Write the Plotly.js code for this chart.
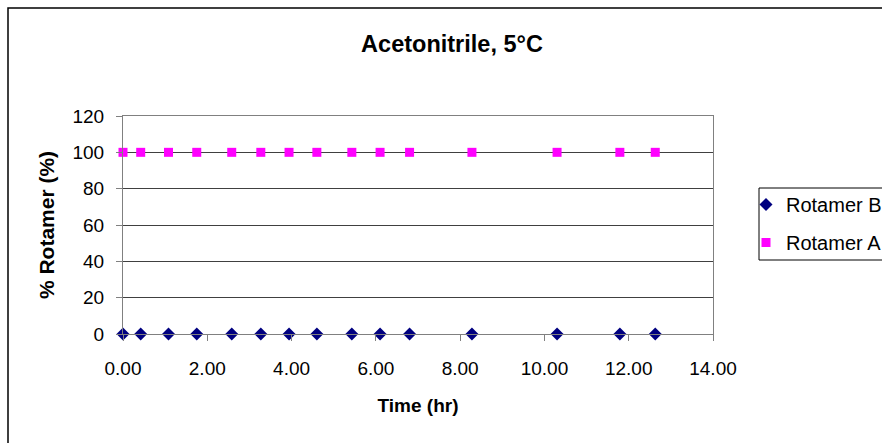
<!DOCTYPE html>
<html>
<head>
<meta charset="utf-8">
<script src="https://cdn.plot.ly/plotly-3.0.1.min.js"></script>
<style>html,body{margin:0;padding:0;background:#fff}#chart{width:882px;height:443px}</style>
</head>
<body>
<div id="chart"></div>
<script>
// Data
const timeHr = [0.00, 0.42, 1.08, 1.75, 2.58, 3.27, 3.94, 4.60, 5.43, 6.10, 6.80, 8.28, 10.30, 11.79, 12.63];
const rotamerB = [0, 0, 0, 0, 0, 0, 0, 0, 0, 0, 0, 0, 0, 0, 0];
const rotamerA = [100, 100, 100, 100, 100, 100, 100, 100, 100, 100, 100, 100, 100, 100, 100];
const xTickVals = [0, 2, 4, 6, 8, 10, 12, 14];
const yTickVals = [0, 20, 40, 60, 80, 100, 120];

const FONT = 'Arial, "Liberation Sans", sans-serif';

const traces = [
  {
    x: timeHr, y: rotamerB, name: 'Rotamer B', type: 'scatter', mode: 'markers',
    legendgroup: 'b', cliponaxis: false,
    marker: {symbol: 'diamond', size: 10, color: '#000080'}
  },
  {
    x: timeHr, y: rotamerA, name: 'Rotamer A', type: 'scatter', mode: 'markers',
    legendgroup: 'a', cliponaxis: false,
    marker: {symbol: 'square', size: 9, color: '#FF00FF'}
  }
];

const PW = 590, PH = 218;
const layout = {
  width: 882, height: 443,
  margin: {l: 123, r: 169, t: 116, b: 109, autoexpand: false},
  paper_bgcolor: '#ffffff', plot_bgcolor: '#ffffff',
  font: {family: FONT, size: 19, color: '#000'},
  title: {
    text: '<b>Acetonitrile, 5°C</b>',
    font: {family: FONT, size: 23.5, color: '#000'},
    x: 452 / 882, xref: 'container', xanchor: 'center',
    y: 1 - 44 / 443, yref: 'container', yanchor: 'middle'
  },
  xaxis: {
    range: [0, 14], tickvals: xTickVals, tickformat: '.2f',
    ticks: 'outside', ticklen: 6, tickcolor: '#808080',
    ticklabelstandoff: 11,
    showline: true, linecolor: '#808080', linewidth: 1, mirror: true,
    showgrid: false, zeroline: false, automargin: false,
    tickfont: {family: FONT, size: 19, color: '#000'},
    title: {text: '<b>Time (hr)</b>', font: {family: FONT, size: 19, color: '#000'}, standoff: 20}
  },
  yaxis: {
    range: [0, 120], tickvals: yTickVals,
    ticks: 'outside', ticklen: 6, tickcolor: '#808080',
    ticklabelstandoff: 8,
    showline: true, linecolor: '#808080', linewidth: 1, mirror: true,
    showgrid: true, gridcolor: '#404040', gridwidth: 1,
    zeroline: false, automargin: false,
    tickfont: {family: FONT, size: 19, color: '#000'},
    title: {text: '<b>% Rotamer (%)</b>', font: {family: FONT, size: 21, color: '#000'}, standoff: 12}
  },
  showlegend: true,
  legend: {
    x: (746 - 123) / PW, xanchor: 'left',
    y: (334 - 185) / PH, yanchor: 'top',
    bgcolor: 'rgba(0,0,0,0)', borderwidth: 0,
    font: {family: FONT, size: 20, color: '#000'},
    traceorder: 'grouped', tracegroupgap: 9,
    itemwidth: 30
  },
  shapes: [
    {type: 'rect', xref: 'paper', yref: 'paper',
     x0: (8 - 123) / PW, x1: (900 - 123) / PW,
     y0: (334 - 460) / PH, y1: 1 + (116 - 8) / PH,
     line: {color: '#000000', width: 1.5}, fillcolor: 'rgba(0,0,0,0)', layer: 'below'},
    {type: 'rect', xref: 'paper', yref: 'paper',
     x0: (759 - 123) / PW, x1: (900 - 123) / PW,
     y0: (334 - 260) / PH, y1: (334 - 188) / PH,
     line: {color: '#000000', width: 1}, fillcolor: 'rgba(0,0,0,0)', layer: 'below'}
  ]
};

Plotly.newPlot('chart', traces, layout, {displayModeBar: false, staticPlot: true});
</script>
</body>
</html>
